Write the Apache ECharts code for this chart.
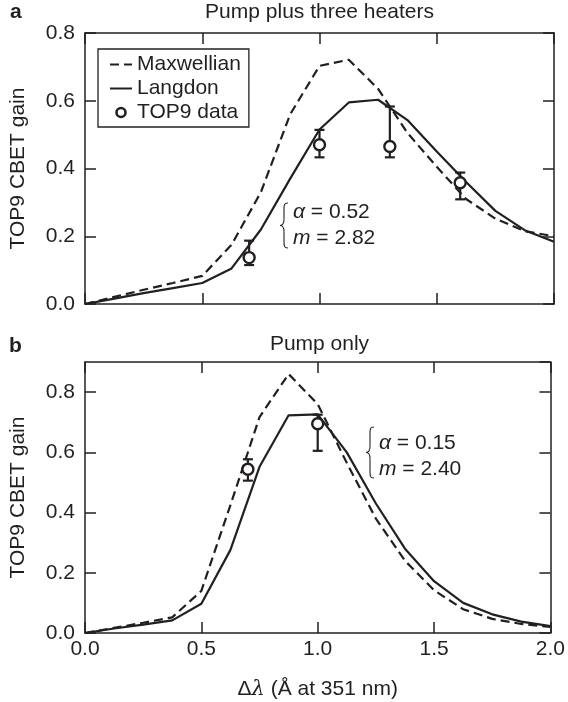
<!DOCTYPE html>
<html>
<head>
<meta charset="utf-8">
<script src="https://cdn.jsdelivr.net/npm/echarts@6/dist/echarts.min.js"></script>
<style>
html, body { margin: 0; padding: 0; background: #fff; }
#main { width: 568px; height: 702px; }
</style>
</head>
<body>
<div id="main"></div>
<script>
// wavelength offset nodes (Å at 351 nm)
var dlam = [0, 0.125, 0.25, 0.375, 0.5, 0.625, 0.75, 0.875, 1.0, 1.125, 1.25, 1.375, 1.5, 1.625, 1.75, 1.875, 2.0];

// panel a: pump plus three heaters
var maxwellA = [0, 0.021, 0.042, 0.062, 0.083, 0.175, 0.33, 0.56, 0.703, 0.721, 0.635, 0.505, 0.405, 0.31, 0.252, 0.215, 0.20];
var langdonA = [0, 0.016, 0.032, 0.047, 0.062, 0.105, 0.22, 0.37, 0.515, 0.595, 0.603, 0.543, 0.45, 0.36, 0.275, 0.218, 0.184];
var ptsXA = [0.7, 1.0, 1.3, 1.6];
var ptsYA = [0.137, 0.47, 0.465, 0.358];
var errLoA = [0.115, 0.433, 0.433, 0.309];
var errHiA = [0.187, 0.514, 0.583, 0.388];

// panel b: pump only
var maxwellB = [0, 0.017, 0.034, 0.052, 0.14, 0.425, 0.717, 0.86, 0.76, 0.565, 0.38, 0.24, 0.142, 0.079, 0.047, 0.03, 0.02];
var langdonB = [0, 0.015, 0.028, 0.042, 0.097, 0.276, 0.552, 0.723, 0.726, 0.60, 0.43, 0.28, 0.172, 0.10, 0.062, 0.038, 0.023];
var ptsXB = [0.7, 1.0];
var ptsYB = [0.544, 0.695];
var errLoB = [0.506, 0.605];
var errHiB = [0.577, 0.725];

var xTicks = [0, 0.5, 1.0, 1.5, 2.0];
var yTicks = [0, 0.2, 0.4, 0.6, 0.8];

var INK = '#231f20';
var FONT = '"Liberation Sans", Arial, Helvetica, sans-serif';
var FS = 21;
var NONE = 'rgba(0,0,0,0)';

function zip(xs, ys) {
	var out = [];
	for (var i = 0; i < xs.length; i++) out.push([xs[i], ys[i]]);
	return out;
}

function zip3(xs, lo, hi) {
	var out = [];
	for (var i = 0; i < xs.length; i++) out.push([xs[i], lo[i], hi[i]]);
	return out;
}

function xAxis(grid, pos, labels) {
	return {
		type: 'value', gridIndex: grid, position: pos,
		min: xTicks[0], max: xTicks[xTicks.length - 1], interval: 0.5,
		axisLine: { show: true, onZero: false, lineStyle: { color: INK, width: 1.5 } },
		axisTick: { show: true, inside: true, length: 11, lineStyle: { color: INK, width: 1.5 } },
		axisLabel: { show: labels, margin: 6, color: INK, fontSize: FS, fontFamily: FONT,
			formatter: function(v) { return v.toFixed(1); } },
		splitLine: { show: false }
	};
}

function yAxis(grid, pos, labels, max) {
	return {
		type: 'value', gridIndex: grid, position: pos,
		min: 0, max: max, interval: 0.2,
		axisLine: { show: true, onZero: false, lineStyle: { color: INK, width: 1.5 } },
		axisTick: { show: true, inside: true, length: 11, lineStyle: { color: INK, width: 1.5 } },
		axisLabel: { show: labels, margin: 10, color: INK, fontSize: FS, fontFamily: FONT, showMaxLabel: max <= 0.8,
			formatter: function(v) { return v > yTicks[yTicks.length - 1] + 0.01 ? '' : v.toFixed(1); } },
		splitLine: { show: false }
	};
}

function lineSeries(name, xi, yi, vals, dashed) {
	return {
		name: name, type: 'line', xAxisIndex: xi, yAxisIndex: yi,
		data: zip(dlam, vals), symbol: 'none', showSymbol: false, silent: true,
		lineStyle: { color: INK, width: 2.2, type: dashed ? [9, 5] : 'solid' },
		itemStyle: { color: INK }
	};
}

function errSeries(xi, yi, xs, lo, hi) {
	return {
		name: 'err', type: 'custom', xAxisIndex: xi, yAxisIndex: yi, z: 4, silent: true,
		data: zip3(xs, lo, hi),
		encode: { x: 0, y: [1, 2] },
		renderItem: function(params, api) {
			var a = api.coord([api.value(0), api.value(1)]);
			var b = api.coord([api.value(0), api.value(2)]);
			var st = { stroke: INK, lineWidth: 2.2 };
			var w = 5;
			return {
				type: 'group',
				children: [
					{ type: 'line', shape: { x1: a[0], y1: a[1], x2: b[0], y2: b[1] }, style: st },
					{ type: 'line', shape: { x1: a[0] - w, y1: a[1], x2: a[0] + w, y2: a[1] }, style: st },
					{ type: 'line', shape: { x1: b[0] - w, y1: b[1], x2: b[0] + w, y2: b[1] }, style: st }
				]
			};
		}
	};
}

function dataSeries(xi, yi, xs, ys) {
	return {
		name: 'TOP9 data', type: 'scatter', xAxisIndex: xi, yAxisIndex: yi, z: 5, silent: true,
		data: zip(xs, ys), symbol: 'circle', symbolSize: 11,
		itemStyle: { color: '#fff', borderColor: INK, borderWidth: 2.4, opacity: 1 }
	};
}

// curly brace opening to the right, built from curves and lines
function brace(x, y, w, h) {
	var m = h / 2, c = w / 2;
	var st = { stroke: INK, lineWidth: 1.1, fill: null };
	return {
		type: 'group', x: x, y: y,
		children: [
			{ type: 'bezierCurve', shape: { x1: w, y1: 0, cpx1: c, cpy1: 0, cpx2: c, cpy2: 2, x2: c, y2: 7 }, style: st },
			{ type: 'line', shape: { x1: c, y1: 7, x2: c, y2: m - 6 }, style: st },
			{ type: 'bezierCurve', shape: { x1: c, y1: m - 6, cpx1: c, cpy1: m - 1, cpx2: c / 2, cpy2: m, x2: 0, y2: m }, style: st },
			{ type: 'bezierCurve', shape: { x1: 0, y1: m, cpx1: c / 2, cpy1: m, cpx2: c, cpy2: m + 1, x2: c, y2: m + 6 }, style: st },
			{ type: 'line', shape: { x1: c, y1: m + 6, x2: c, y2: h - 7 }, style: st },
			{ type: 'bezierCurve', shape: { x1: c, y1: h - 7, cpx1: c, cpy1: h - 2, cpx2: c, cpy2: h, x2: w, y2: h }, style: st }
		]
	};
}

function label(txt, x, y, opt) {
	var s = { text: txt, x: x, y: y, fill: INK, font: (opt && opt.bold ? 'bold ' : '') + FS + 'px ' + FONT,
		textAlign: (opt && opt.align) || 'left', textVerticalAlign: 'middle' };
	if (opt && opt.rich) s.rich = opt.rich;
	return { type: 'text', style: s };
}

var mathRich = {
	i: { fontStyle: 'italic', fontSize: FS, fontFamily: FONT, fill: INK, color: INK },
	t: { fontSize: FS, fontFamily: FONT, color: INK }
};

// bottom x axis of panel b carries the axis name
var xNamed = xAxis(1, 'bottom', true);
xNamed.name = '{d|Δ}{l|λ}{t| (Å at 351 nm)}';
xNamed.nameLocation = 'middle';
xNamed.nameGap = 46;
xNamed.nameTextStyle = {
	fontSize: FS, fontFamily: FONT, color: INK,
	rich: {
		d: { fontSize: FS, fontFamily: FONT, color: INK },
		l: { fontSize: FS, fontFamily: '"DejaVu Serif", serif', fontStyle: 'italic', color: INK },
		t: { fontSize: FS, fontFamily: FONT, color: INK }
	}
};

function yNamed(grid, max) {
	var a = yAxis(grid, 'left', true, max);
	a.name = 'TOP9 CBET gain';
	a.nameLocation = 'middle';
	a.nameGap = 56;
	a.nameTextStyle = { fontSize: FS, fontFamily: FONT, color: INK };
	return a;
}

var chart = echarts.init(document.getElementById('main'));
var option = {
	animation: false,
	backgroundColor: '#fff',
	textStyle: { fontFamily: FONT, color: INK },
	grid: [
		{ left: 85, right: 14, top: 33, height: 271 },
		{ left: 85, right: 14, top: 362, height: 271 }
	],
	xAxis: [
		xAxis(0, 'bottom', false),
		xAxis(0, 'top', false),
		xNamed,
		xAxis(1, 'top', false)
	],
	yAxis: [
		yNamed(0, 0.8),
		yAxis(0, 'right', false, 0.8),
		yNamed(1, 0.9),
		yAxis(1, 'right', false, 0.9)
	],
	legend: {
		orient: 'vertical', left: 98, top: 49,
		padding: [5, 8, 4, 11], itemGap: 3,
		itemWidth: 22, itemHeight: 9,
		borderColor: INK, borderWidth: 1.3, borderRadius: 0,
		selectedMode: false,
		textStyle: { fontSize: FS, fontFamily: FONT, color: INK, lineHeight: 21 },
		data: [
			// line entries: hide the marker the legend puts on the line
			{ name: 'Maxwellian', itemStyle: { color: NONE, borderColor: NONE, borderWidth: 0, opacity: 0 } },
			{ name: 'Langdon', itemStyle: { color: NONE, borderColor: NONE, borderWidth: 0, opacity: 0 } },
			{ name: 'TOP9 data', itemStyle: { color: '#fff', borderColor: INK, borderWidth: 2.6 } }
		]
	},
	series: [
		lineSeries('Maxwellian', 0, 0, maxwellA, true),
		lineSeries('Langdon', 0, 0, langdonA, false),
		errSeries(0, 0, ptsXA, errLoA, errHiA),
		dataSeries(0, 0, ptsXA, ptsYA),
		lineSeries('Maxwellian', 2, 2, maxwellB, true),
		lineSeries('Langdon', 2, 2, langdonB, false),
		errSeries(2, 2, ptsXB, errLoB, errHiB),
		dataSeries(2, 2, ptsXB, ptsYB)
	],
	graphic: [
		label('a', 10, 12, { bold: true }),
		label('Pump plus three heaters', 319.5, 12, { align: 'center' }),
		label('b', 9, 346, { bold: true }),
		label('Pump only', 319.5, 344, { align: 'center' }),
		brace(280, 203, 8, 45),
		label('{i|α}{t| = 0.52}', 293, 212, { rich: mathRich }),
		label('{i|m}{t| = 2.82}', 293, 238, { rich: mathRich }),
		brace(366, 427, 8, 51),
		label('{i|α}{t| = 0.15}', 379, 443, { rich: mathRich }),
		label('{i|m}{t| = 2.40}', 379, 469, { rich: mathRich })
	]
};
chart.setOption(option);
</script>
</body>
</html>
